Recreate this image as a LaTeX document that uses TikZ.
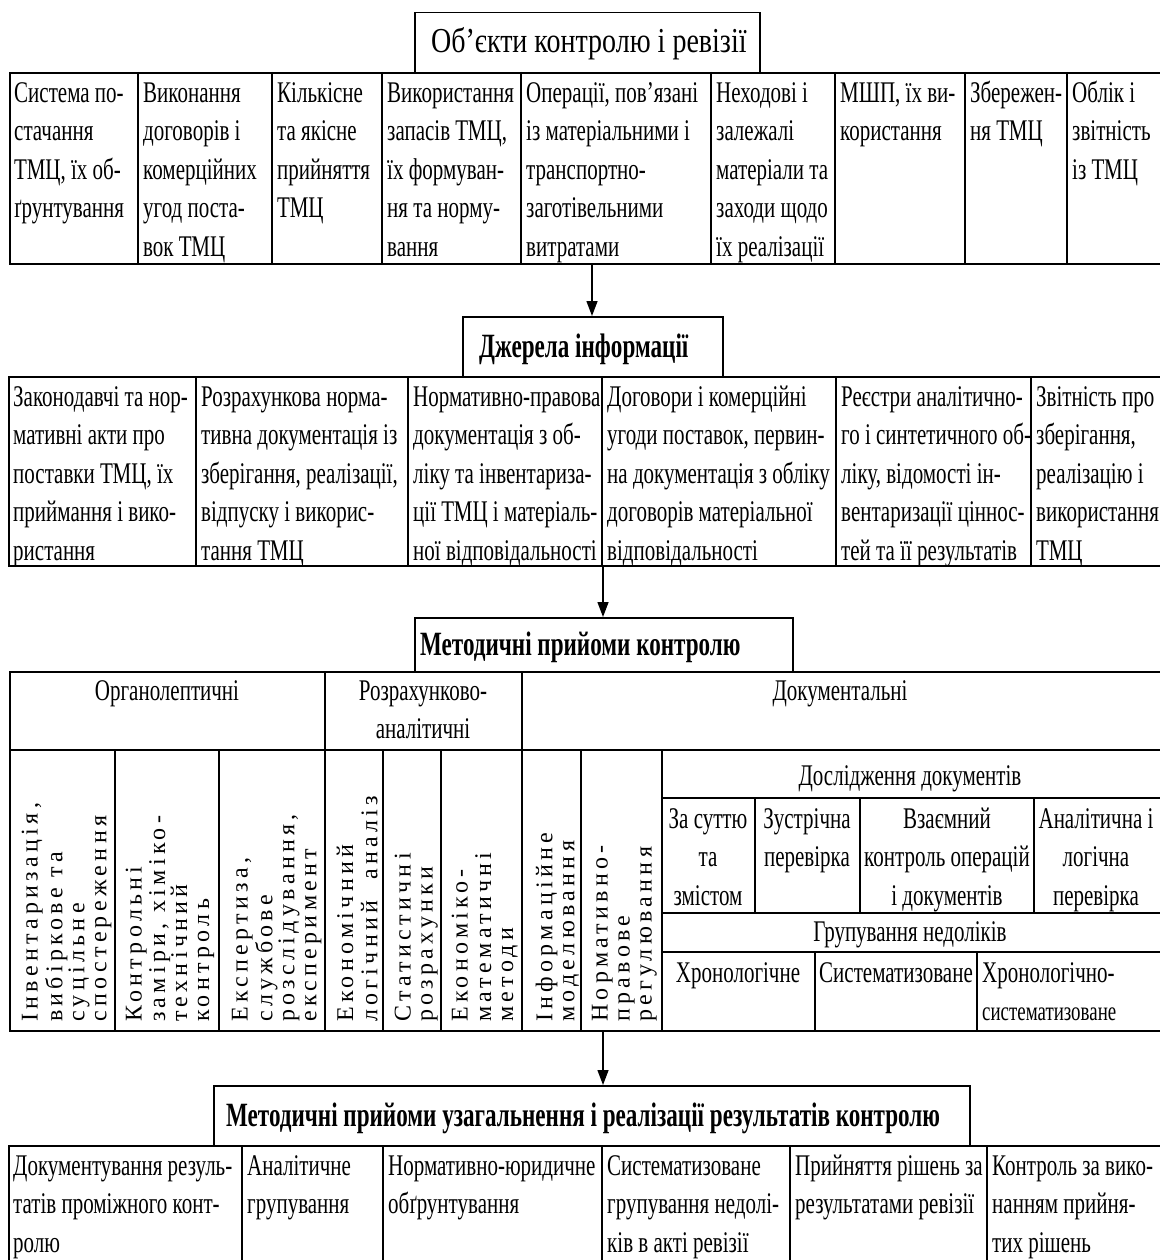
\documentclass[tikz,border=0pt]{standalone}
\usepackage{fontspec}
\usetikzlibrary{arrows.meta}
\newfontfamily\bodyf{Liberation Serif}[FakeStretch=0.7]
\newfontfamily\titlef{Liberation Serif}[FakeStretch=0.68]
\newfontfamily\titleAf{Liberation Serif}[FakeStretch=0.8]
\newfontfamily\vertf{Liberation Serif}[LetterSpace=18]
\tikzset{
  cell/.style={anchor=north west, align=left, inner sep=0pt, font=\bodyf\fontsize{30}{38.5}\selectfont},
  ccell/.style={anchor=north, align=center, inner sep=0pt, font=\bodyf\fontsize{30}{38.5}\selectfont},
  vcell/.style={rotate=90, anchor=north west, align=left, inner sep=0pt, font=\vertf\fontsize{24}{22}\selectfont},
  ttlbox/.style={draw, line width=1.5pt, anchor=north west, inner sep=0pt},
  ttltext/.style={anchor=base west, inner sep=0pt, font=\titlef\bfseries\fontsize{34}{40}\selectfont},
  ttltextA/.style={anchor=base west, inner sep=0pt, font=\titleAf\fontsize{35}{40}\selectfont},
  rowbox/.style={draw, line width=2pt, anchor=north west, inner sep=0pt},
  div/.style={line width=1.4pt},
  arr/.style={line width=1.4pt, -{Triangle[width=11pt,length=15pt]}}
}
\begin{document}
\begin{tikzpicture}[x=1pt,y=-1pt]
\useasboundingbox[fill=white] (0,0) rectangle (1159,1260);

% ---------------- Level 1 ----------------
\node[ttlbox, minimum width=345pt, minimum height=60pt] (t1) at (414,12) {};
\node[ttltextA] (t1x) at (431,53) {Об’єкти контролю і ревізії};
\node[rowbox, minimum width=1156pt, minimum height=191pt] (r1) at (9,72) {};
\foreach \x in {138,272,382,521,711,835,965,1067} \draw[div] (\x,72) -- (\x,263);
\node[cell] (r1c1) at (14,75) {\strut Система по-\\стачання\\ТМЦ, їх об-\\ґрунтування};
\node[cell] (r1c2) at (143,75) {\strut Виконання\\договорів і\\комерційних\\угод поста-\\вок ТМЦ};
\node[cell] (r1c3) at (277,75) {\strut Кількісне\\та якісне\\прийняття\\ТМЦ};
\node[cell] (r1c4) at (387,75) {\strut Використання\\запасів ТМЦ,\\їх формуван-\\ня та норму-\\вання};
\node[cell] (r1c5) at (526,75) {\strut Операції, пов’язані\\із матеріальними і\\транспортно-\\заготівельними\\витратами};
\node[cell] (r1c6) at (716,75) {\strut Неходові і\\залежалі\\матеріали та\\заходи щодо\\їх реалізації};
\node[cell] (r1c7) at (840,75) {\strut МШП, їх ви-\\користання};
\node[cell] (r1c8) at (970,75) {\strut Збережен-\\ня ТМЦ};
\node[cell] (r1c9) at (1072,75) {\strut Облік і\\звітність\\із ТМЦ};

% ---------------- Level 2 ----------------
\node[ttlbox, minimum width=260pt, minimum height=60pt] (t2) at (462,316) {};
\node[ttltext] (t2x) at (479,357) {Джерела інформації};
\node[rowbox, minimum width=1157pt, minimum height=189pt] (r2) at (8,376) {};
\foreach \x in {196,408,602,836,1031} \draw[div] (\x,376) -- (\x,565);
\node[cell] (r2c1) at (13,379) {\strut Законодавчі та нор-\\мативні акти про\\поставки ТМЦ, їх\\приймання і вико-\\ристання};
\node[cell] (r2c2) at (201,379) {\strut Розрахункова норма-\\тивна документація із\\зберігання, реалізації,\\відпуску і викорис-\\тання ТМЦ};
\node[cell] (r2c3) at (413,379) {\strut Нормативно-правова\\документація з об-\\ліку та інвентариза-\\ції ТМЦ і матеріаль-\\ної відповідальності};
\node[cell] (r2c4) at (607,379) {\strut Договори і комерційні\\угоди поставок, первин-\\на документація з обліку\\договорів матеріальної\\відповідальності};
\node[cell] (r2c5) at (841,379) {\strut Реєстри аналітично-\\го і синтетичного об-\\ліку, відомості ін-\\вентаризації ціннос-\\тей та її результатів};
\node[cell] (r2c6) at (1036,379) {\strut Звітність про\\зберігання,\\реалізацію і\\використання\\ТМЦ};

% ---------------- Level 3 ----------------
\node[ttlbox, minimum width=378pt, minimum height=54pt] (t3) at (414,617) {};
\node[ttltext] (t3x) at (420,655) {Методичні прийоми контролю};
\node[rowbox, minimum width=1156pt, minimum height=359pt] (r3) at (9,671) {};
\draw[div] (9,750) -- (1165,750);
\foreach \x in {325,522} \draw[div] (\x,671) -- (\x,1030);
\foreach \x in {115,219,383,441,581,662} \draw[div] (\x,750) -- (\x,1030);
\foreach \y in {798,913,952} \draw[div] (662,\y) -- (1165,\y);
\foreach \x in {755,860,1034} \draw[div] (\x,798) -- (\x,913);
\foreach \x in {815,977} \draw[div] (\x,952) -- (\x,1030);
\node[ccell] (h1) at (167,673) {\strut Органолептичні};
\node[ccell] (h2) at (423,673) {\strut Розрахунково-\\аналітичні};
\node[ccell] (h3) at (840,673) {\strut Документальні};
\node[vcell] (v1) at (21.6,1022) {\strut Інвентаризація,\\вибіркове та\\суцільне\\спостереження};
\node[vcell] (v2) at (125.6,1022) {\strut Контрольні\\заміри, хіміко-\\технічний\\контроль};
\node[vcell] (v3) at (231.6,1022) {\strut Експертиза,\\службове\\розслідування,\\експеримент};
\node[vcell] (v4) at (336.6,1022) {\strut Економічний\\логічний\ \ аналіз};
\node[vcell] (v5) at (394.6,1022) {\strut Статистичні\\розрахунки};
\node[vcell] (v6) at (451.6,1022) {\strut Економіко-\\математичні\\методи};
\node[vcell] (v7) at (535.6,1022) {\strut Інформаційне\\моделювання};
\node[vcell] (v8) at (591.6,1022) {\strut Нормативно-\\правове\\регулювання};
\node[ccell] (d0) at (910,758) {\strut Дослідження документів};
\node[ccell] (d1) at (708,801) {\strut За суттю\\та\\змістом};
\node[ccell] (d2) at (807,801) {\strut Зустрічна\\перевірка};
\node[ccell] (d3) at (947,801) {\strut Взаємний\\контроль операцій\\і документів};
\node[ccell] (d4) at (1096,801) {\strut Аналітична і\\логічна\\перевірка};
\node[ccell] (g0) at (910,914) {\strut Групування недоліків};
\node[ccell] (g1) at (738,955) {\strut Хронологічне};
\node[ccell] (g2) at (896,955) {\strut Систематизоване};
\node[cell] (g3) at (982,955) {\strut Хронологічно-\\{\fontsize{27}{37}\selectfont систематизоване}};

% ---------------- Level 4 ----------------
\node[ttlbox, minimum width=756pt, minimum height=60pt] (t4) at (213,1085) {};
\node[ttltext] (t4x) at (226,1126) {Методичні прийоми узагальнення і реалізації результатів контролю};
\node[rowbox, minimum width=1157pt, minimum height=120pt] (r4) at (8,1145) {};
\foreach \x in {242,383,602,790,987} \draw[div] (\x,1145) -- (\x,1265);
\node[cell] (r4c1) at (13,1148) {\strut Документування резуль-\\татів проміжного конт-\\ролю};
\node[cell] (r4c2) at (247,1148) {\strut Аналітичне\\групування};
\node[cell] (r4c3) at (388,1148) {\strut Нормативно-юридичне\\обґрунтування};
\node[cell] (r4c4) at (607,1148) {\strut Систематизоване\\групування недолі-\\ків в акті ревізії};
\node[cell] (r4c5) at (795,1148) {\strut Прийняття рішень за\\результатами ревізії};
\node[cell] (r4c6) at (992,1148) {\strut Контроль за вико-\\нанням прийня-\\тих рішень};

% ---------------- Connectors ----------------
\coordinate (a1) at (592,0);
\coordinate (a2) at (603,0);
\draw[arr] (r1.south -| a1) -- (t2.north -| a1);
\draw[arr] (r2.south -| a2) -- (t3.north -| a2);
\draw[arr] (r3.south -| a2) -- (t4.north -| a2);
\end{tikzpicture}
\end{document}
